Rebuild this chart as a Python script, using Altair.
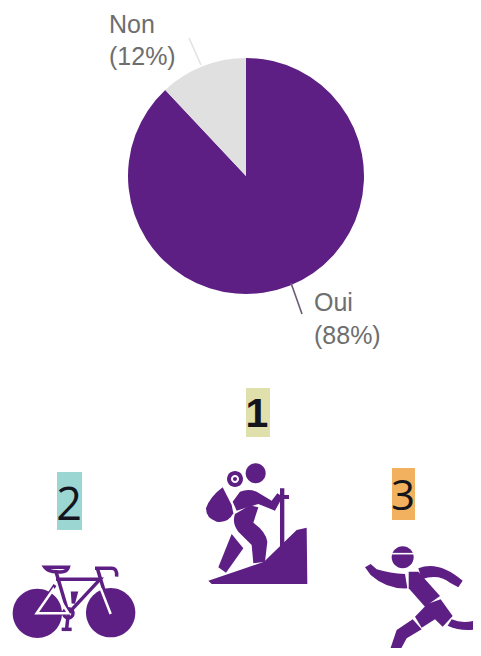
import altair as alt
import pandas as pd

PURPLE = "#5e1f84"
answers = ["Oui", "Non"]
shares = [88, 12]
slice_colors = ["#5e1f84", "#e0e0e0"]

label_texts = ["Non", "(12%)", "Oui", "(88%)"]
label_x = [109, 109, 314, 314]
label_y = [33, 65, 311, 344]

lead_x = [189, 291]
lead_x2 = [201, 302]
lead_y = [38, 283]
lead_y2 = [65, 314]
lead_colors = ["#e3e3e3", "#6b5a78"]

ranks = ["1", "2", "3"]
rank_left = [246, 57, 392]
rank_right = [270, 82, 415]
rank_top = [388, 472, 468]
rank_bottom = [437, 530, 520]
rank_colors = ["#dfe0ac", "#9bd6d3", "#f2b15f"]
rank_x = [257, 69, 403]
rank_base = [427, 520, 510]
rank_size = [41, 45, 42]
rank_font = ["Liberation Sans", "Open Sans", "Open Sans"]
rank_weight = ["bold", 500, 500]

def circle(cx, cy, r):
    return f"M{cx-r} {cy}a{r} {r} 0 1 0 {2*r} 0a{r} {r} 0 1 0 {-2*r} 0Z"

# Icon outlines, in their own local drawing units (three units to a pixel)
hiker_fill = [
    circle(197, 280, 30),
    circle(135, 297, 24),
    "M98 322Q60 350 48 385Q48 415 80 425Q115 430 130 400L125 375Z",
    "M150 335Q175 325 200 335L245 362L262 340L278 350L255 392L205 372L140 392L128 365Z",
    "M135 402L180 376L205 382L190 428Q228 455 232 485L225 545L190 550L185 495L145 455Q125 430 135 402Z",
    "M125 462L160 505L108 578L85 562Z",
    "M270 325H283V345H297V357H283V492L270 502V357H262V345H270Z",
    "M55 602Q150 570 222 545L320 450L350 443L352 612H65Z",
]
hiker_white = [circle(135, 297, 12)]
hiker_dot = [circle(135, 297, 6)]

bike_line = [
    "M135 322H205Q200 340 170 335Q145 335 135 322Z",
    "M168 335L205 460L200 505",
    "M168 358H300L205 460H108L165 375",
    "M285 325H335Q352 325 350 350M292 325L332 458",
    "M185 508H215",
    circle(205, 460, 14),
    "M218 400L228 400L220 430Z",
]
bike_wheels = [circle(112, 460, 74), circle(332, 458, 74)]
bike_white = [
    "M110 460L160 388L205 460Z",
    "M302 385L332 462",
]

runner_fill = [
    circle(158, 292, 33),
    "M45 322L62 312L80 328Q120 340 165 342L172 385Q110 388 62 345Z",
    "M205 325Q265 300 338 362L325 382L300 368Q265 340 215 358Z",
    "M176 335L205 335L270 408L225 440L176 385Z",
    "M195 470L232 432L272 418L308 468L278 500L255 478L215 503Z",
    "M188 478L215 508L170 535L140 590L118 575L140 510Z",
    "M305 478Q345 495 392 475V505Q340 518 293 497Z",
]
runner_white = ["M124 281H192"]

x_scale = alt.Scale(domain=[8, 473], nice=False, zero=False)
y_scale = alt.Scale(domain=[648, 8], nice=False, zero=False)
X = lambda f: alt.X(f, type="quantitative", scale=x_scale, axis=None)
Y = lambda f: alt.Y(f, type="quantitative", scale=y_scale, axis=None)

pie_df = pd.DataFrame({"answer": answers, "share": shares, "step": [0, 1], "cx": 246, "cy": 176})
pie = alt.Chart(pie_df).mark_arc(outerRadius=118, stroke=None).encode(
    x=X("cx"), y=Y("cy"),
    theta=alt.Theta("share:Q", stack=True),
    order=alt.Order("step:Q"),
    color=alt.Color("answer:N", scale=alt.Scale(domain=answers, range=slice_colors), legend=None),
)

lead_df = pd.DataFrame({"x": lead_x, "x2": lead_x2, "y": lead_y, "y2": lead_y2, "c": lead_colors})
leads = alt.Chart(lead_df).mark_rule(strokeWidth=1.6).encode(
    x=X("x"), x2="x2", y=Y("y"), y2="y2", color=alt.Color("c:N", scale=None)
)

label_df = pd.DataFrame({"t": label_texts, "x": label_x, "y": label_y})
labels = alt.Chart(label_df).mark_text(
    align="left", baseline="alphabetic", font="Liberation Sans", fontSize=25, color="#6e6e6e"
).encode(x=X("x"), y=Y("y"), text="t:N")

rank_df = pd.DataFrame({
    "t": ranks, "l": rank_left, "r": rank_right, "top": rank_top, "bot": rank_bottom,
    "c": rank_colors, "x": rank_x, "y": rank_base,
})
badges = alt.Chart(rank_df).mark_rect().encode(
    x=X("l"), x2="r", y=Y("top"), y2="bot", color=alt.Color("c:N", scale=None)
)
rank_layers = []
for i, t in enumerate(ranks):
    rank_layers.append(
        alt.Chart(rank_df.iloc[[i]]).mark_text(
            align="center", baseline="alphabetic", font=rank_font[i],
            fontSize=rank_size[i], fontWeight=rank_weight[i], color="#14141c",
        ).encode(x=X("x"), y=Y("y"), text="t:N")
    )

def glyph(paths, ox, oy, color, filled=True, width=0):
    df = pd.DataFrame({"ox": [ox], "oy": [oy]})
    out = []
    for p in paths:
        kw = dict(fill=color, strokeWidth=0) if filled else dict(fill="transparent", stroke=color, strokeWidth=width)
        out.append(alt.Chart(df).mark_point(shape=p, size=4 / 9, opacity=1, **kw).encode(x=X("ox"), y=Y("oy")))
    return out

HX, HY = 190, 380
BX, BY = 0, 460
RX, RY = 350, 460
icons = (
    glyph(hiker_fill, HX, HY, PURPLE)
    + glyph(hiker_white, HX, HY, "#ffffff")
    + glyph(hiker_dot, HX, HY, PURPLE)
    + glyph(bike_line, BX, BY, PURPLE, filled=False, width=3.5)
    + glyph(bike_wheels, BX, BY, PURPLE)
    + glyph(bike_white, BX, BY, "#ffffff", filled=False, width=2.5)
    + glyph(runner_fill, RX, RY, PURPLE)
    + glyph(runner_white, RX, RY, "#ffffff", filled=False, width=1.6)
)

chart = alt.layer(pie, leads, labels, badges, *rank_layers, *icons).properties(
    width=465, height=640, padding=0, autosize=alt.AutoSizeParams(type="none"),
    background="#ffffff",
).configure_view(stroke=None)

chart.save("out.html", embed_options={"renderer": "svg", "actions": False})
